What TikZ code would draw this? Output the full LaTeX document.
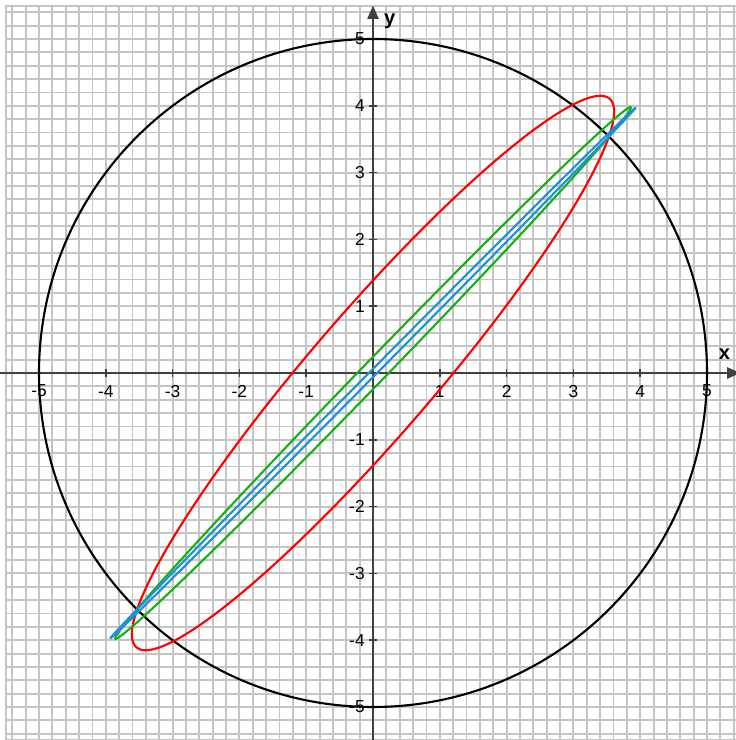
\documentclass[tikz,border=0pt]{standalone}
\usepackage{fontspec}
\setmainfont{Liberation Sans}
\usepackage{xcolor}
\usetikzlibrary{arrows.meta}
\definecolor{gridgray}{RGB}{196,196,196}
\definecolor{axisgray}{RGB}{64,64,64}
\definecolor{curvered}{RGB}{255,0,0}
\definecolor{curvegreen}{RGB}{20,176,20}
\definecolor{curveblue}{RGB}{30,144,216}
\tikzset{
  gridline/.style={gridgray, line width=0.8pt},
  axisline/.style={axisgray, line width=0.65pt,
    -{Triangle[length=0.2cm, width=0.17cm]}},
  tickmark/.style={axisgray, line width=0.65pt},
  ticklabel/.style={font=\fontsize{7.4}{8.6}\selectfont, inner sep=0.5pt},
  axislabel/.style={font=\fontsize{8.6}{10}\selectfont\bfseries, inner sep=0.5pt},
  lissa/.style={line width=0.9pt, line join=round, variable=\t,
    domain=0:360, samples=361},
}

\begin{document}
\begin{tikzpicture}
  \clip (-5.584,-5.494) rectangle (5.434,5.584);
  \fill[white] (-5.584,-5.494) rectangle (5.434,5.584);
  % Grid
  \draw[gridline, step=0.2] (-5.5,-5.5) grid (5.5,5.5);
  \draw[gridline] (-5.5,-5.5) rectangle (5.5,5.5);
  % Axes
  \coordinate (xmin) at (-5.7,0);
  \coordinate (xmax) at (5.5,0);
  \coordinate (ymin) at (0,-5.7);
  \coordinate (ymax) at (0,5.5);
  \draw[axisline] (xmin) -- (xmax);
  \draw[axisline] (ymin) -- (ymax);
  \node[axislabel] (xname) at (5.26,0.28) {x};
  \node[axislabel] (yname) at (0.25,5.26) {y};
  % Ticks and numbers
  \foreach \k in {-5,-4,-3,-2,-1,1,2,3,4,5} {
    \draw[tickmark] (\k,-0.06) -- (\k,0.06);
    \draw[tickmark] (-0.06,\k) -- (0.06,\k);
    \node[ticklabel] (xnum\k) at (\k,-0.27) {\k};
    \node[ticklabel, anchor=east] (ynum\k) at (-0.1,\k) {\k};
  }
  % Circle of radius 5
  \draw[line width=0.9pt] (0,0) circle (5);
  % Curves
  \draw[lissa, curvered] plot ({3.61*sin(\t)}, {4.15*sin(\t+19.5)});
  \draw[lissa, curvegreen] plot ({3.86*sin(\t)}, {3.98*sin(\t+3.5)});
  \draw[lissa, curveblue] plot ({3.93*sin(\t)}, {3.97*sin(\t+0.9)});
\end{tikzpicture}
\end{document}
